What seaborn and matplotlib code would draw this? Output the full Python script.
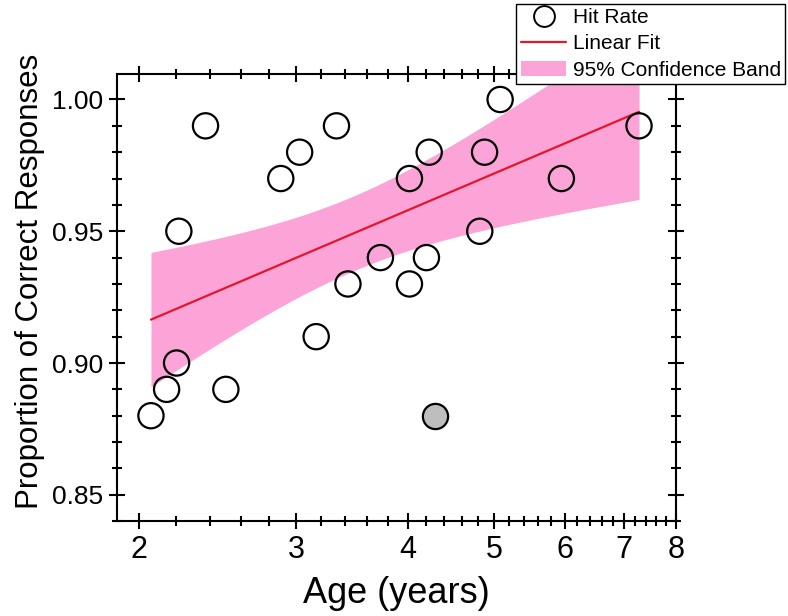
import numpy as np
import pandas as pd
import matplotlib
matplotlib.use("Agg")
import matplotlib.pyplot as plt
from matplotlib.ticker import FixedLocator, FixedFormatter, MultipleLocator, FormatStrFormatter, NullFormatter
from matplotlib.lines import Line2D
from matplotlib.patches import Patch
import seaborn as sns

# === Data ===
age = [2.063, 2.148, 2.204, 2.217, 2.375, 2.503, 2.884, 3.028, 3.16, 3.33, 3.43,
       3.73, 4.02, 4.02, 4.20, 4.23, 4.82, 4.88, 5.08, 5.95, 7.27]
hit_rate = [0.88, 0.89, 0.90, 0.95, 0.99, 0.89, 0.97, 0.98, 0.91, 0.99, 0.93,
            0.94, 0.97, 0.93, 0.94, 0.98, 0.95, 0.98, 1.00, 0.97, 0.99]
# excluded point (grey)
outlier_age = [4.29]
outlier_hit = [0.88]

x_ticks = [2, 3, 4, 5, 6, 7, 8]
y_ticks = [0.85, 0.90, 0.95, 1.00]

band_color = "#FCA4D7"
line_color = "#E3172C"

# === Linear fit on log10(age) with 95% confidence band ===
df = pd.DataFrame({"age": age, "hit": hit_rate})
lx = np.log10(df["age"].values)
yv = df["hit"].values
n = len(lx)
slope, intercept = np.polyfit(lx, yv, 1)
resid = yv - (slope * lx + intercept)
s_err = np.sqrt(np.sum(resid ** 2) / (n - 2))
sxx = np.sum((lx - lx.mean()) ** 2)
t_crit = 2.093  # t(0.975, df=19)

xs = np.geomspace(min(age), max(age), 200)
lxs = np.log10(xs)
fit = slope * lxs + intercept
half = t_crit * s_err * np.sqrt(1.0 / n + (lxs - lx.mean()) ** 2 / sxx)

# === Plot ===
sns.set_style("white")
plt.rcParams["font.family"] = ["Liberation Sans", "DejaVu Sans"]
plt.rcParams["text.color"] = "black"
plt.rcParams["axes.labelcolor"] = "black"
plt.rcParams["xtick.color"] = "black"
plt.rcParams["ytick.color"] = "black"

fig = plt.figure(figsize=(7.88, 6.16), dpi=100)
ax = fig.add_axes([0.1485, 0.154, 0.7095, 0.726])

ax.fill_between(xs, fit - half, fit + half, color=band_color, lw=0, zorder=1)
sns.lineplot(x=xs, y=fit, color=line_color, lw=1.6, ax=ax, zorder=2)
sns.scatterplot(x=age, y=hit_rate, s=330, facecolor="none", edgecolor="black",
                linewidth=1.6, ax=ax, zorder=3)
sns.scatterplot(x=outlier_age, y=outlier_hit, s=330, facecolor="#BEBEBE",
                edgecolor="black", linewidth=1.6, ax=ax, zorder=3)

ax.set_xscale("log")
ax.set_xlim(1.89, 8)
ax.set_ylim(0.84, 1.0097)

ax.xaxis.set_major_locator(FixedLocator(x_ticks))
ax.xaxis.set_major_formatter(FixedFormatter([str(v) for v in x_ticks]))
minor_x = [v / 10 for v in range(22, 80, 2) if v % 10 != 0]
ax.xaxis.set_minor_locator(FixedLocator(minor_x))
ax.xaxis.set_minor_formatter(NullFormatter())

ax.yaxis.set_major_locator(FixedLocator(y_ticks))
ax.yaxis.set_major_formatter(FormatStrFormatter("%.2f"))
ax.yaxis.set_minor_locator(MultipleLocator(0.01))

for sp in ax.spines.values():
    sp.set_linewidth(1.5)
    sp.set_color("black")

ax.tick_params(which="both", direction="inout", top=True, right=True,
               bottom=True, left=True, width=1.5, color="black")
ax.tick_params(which="major", length=12)
ax.tick_params(which="minor", length=7)
ax.tick_params(axis="x", which="major", labelsize=22, pad=4)
ax.tick_params(axis="y", which="major", labelsize=19, pad=4)

ax.set_xlabel("Age (years)", fontsize=26, labelpad=8)
ax.set_ylabel("Proportion of Correct Responses", fontsize=22.5)
ax.yaxis.set_label_coords(-0.128, 0.537)

handles = [
    Line2D([], [], marker="o", ls="none", markersize=15, markerfacecolor="none",
           markeredgecolor="black", markeredgewidth=1.4),
    Line2D([], [], color=line_color, lw=1.6),
    Patch(facecolor=band_color, edgecolor="none"),
]
labels = ["Hit Rate", "Linear Fit", "95% Confidence Band"]
leg = fig.legend(handles, labels, loc="upper right", bbox_to_anchor=(785 / 788, 1 - 4 / 616),
                 frameon=True, fancybox=False, framealpha=1, edgecolor="black",
                 fontsize=15, handlelength=2.2, handletextpad=0.3, borderpad=0.2,
                 labelspacing=0.35, borderaxespad=0)
leg.get_frame().set_linewidth(1.0)

fig.savefig("out.png", dpi=100)
